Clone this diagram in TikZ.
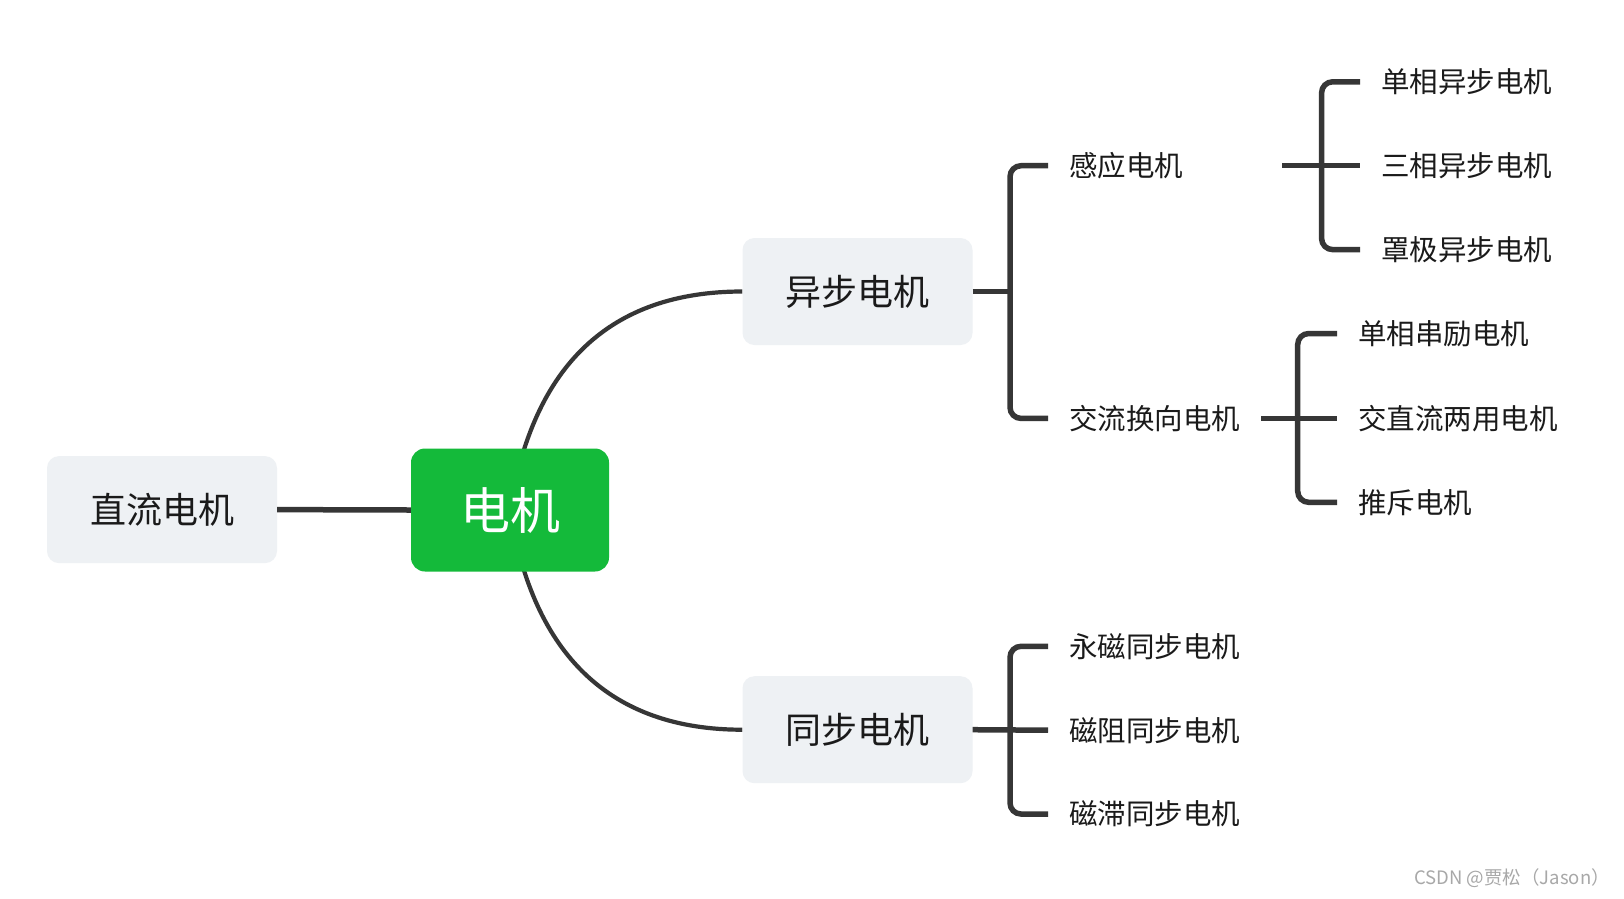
\documentclass[tikz,border=0pt]{standalone}
\usepackage{fontspec}
\newfontfamily\cjk{Noto Sans CJK SC}
\usetikzlibrary{backgrounds}
\definecolor{linec}{HTML}{363636}
\definecolor{boxgray}{HTML}{EEF1F4}
\definecolor{maingreen}{HTML}{14BA3A}
\definecolor{textc}{HTML}{1A1A1A}
\definecolor{markc}{HTML}{A8A8A8}
\tikzset{
  topic/.style={fill=boxgray, rounded corners=12pt, minimum width=230pt, minimum height=107pt,
    inner sep=0pt, text=textc, font=\cjk\fontsize{36}{40}\selectfont},
  central/.style={fill=maingreen, rounded corners=14pt, minimum width=198pt, minimum height=123pt,
    inner sep=0pt, text=white, font=\cjk\fontsize{50}{56}\selectfont},
  leaf/.style={anchor=west, inner xsep=21pt, inner ysep=0pt, text=textc,
    font=\cjk\fontsize{28.5}{32}\selectfont},
  link/.style={draw=linec, line width=5.5pt},
  curvelink/.style={draw=linec, line width=4.2pt},
  brace/.style={link, rounded corners=11pt},
}
\begin{document}
\begin{tikzpicture}[x=1pt,y=-1pt]
\useasboundingbox (0,0) rectangle (1624,898);

% main nodes
\node[central] (main) at (510,510) {电机};
\node[topic] (zl) at (162,509.6) {直流电机};
\node[topic] (yb) at (857.5,291.5) {异步电机};
\node[topic] (tb) at (857.5,729.7) {同步电机};

% level 2
\node[leaf, text width=192pt, align=left] (gy) at (1048,165.7) {感应电机};
\node[leaf] (jl) at (1048,418.4) {交流换向电机};
\node[leaf] (tb1) at (1048,646.3) {永磁同步电机};
\node[leaf] (tb2) at (1048,730.2) {磁阻同步电机};
\node[leaf] (tb3) at (1048,814.0) {磁滞同步电机};

% level 3
\node[leaf] (dx1) at (1360,81.8) {单相异步电机};
\node[leaf] (dx2) at (1360,165.7) {三相异步电机};
\node[leaf] (dx3) at (1360,249.6) {罩极异步电机};
\node[leaf] (jx1) at (1337,333.5) {单相串励电机};
\node[leaf] (jx2) at (1337,418.4) {交直流两用电机};
\node[leaf] (jx3) at (1337,502.3) {推斥电机};

% spine coordinates
\coordinate (s1) at (1010,291.5);
\coordinate (s2) at (1010,730.2);
\coordinate (s3) at (1321.6,165.7);
\coordinate (s4) at (1297.7,418.4);

% connectors
\begin{scope}[on background layer]
\fill[white] (0,0) rectangle (1624,898);
\draw[curvelink] (main.center) .. controls +(23,-145) and +(-132,0) .. (yb.west);
\draw[curvelink] (main.center) .. controls +(23,145) and +(-132,0) .. (tb.west);
\end{scope}
\draw[link] (zl.east) -- (main.west);

\draw[link] (yb.east) -- (s1);
\draw[brace] (gy.west) -| (s1) |- (jl.west);

\draw[link] (tb.east) -- (tb2.west);
\draw[brace] (tb1.west) -| (s2) |- (tb3.west);

\draw[link] (gy.east) -- (dx2.west);
\draw[brace] (dx1.west) -| (s3) |- (dx3.west);

\draw[link] (jl.east) -- (jx2.west);
\draw[brace] (jx1.west) -| (s4) |- (jx3.west);

% watermark
\node[anchor=east, inner sep=0pt, text=markc, font=\cjk\fontsize{18.5}{20}\selectfont] (wm) at (1610,878) {CSDN @贾松（Jason）};
\end{tikzpicture}
\end{document}
